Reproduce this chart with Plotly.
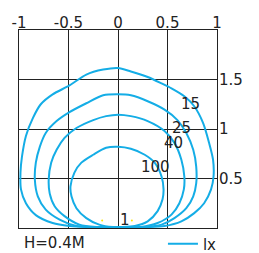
import plotly.graph_objects as go

# Isolux contours (x, y in metres), H = 0.4 m
lx15_x = [-0.32, -0.49, -0.66, -0.83, -0.93, -0.98, -0.985, -0.97, -0.93, -0.86, -0.78, -0.66, -0.49, -0.32, -0.15, 0.0,
          0.13, 0.30, 0.44, 0.54, 0.67, 0.77, 0.86, 0.92, 0.96, 0.965, 0.94, 0.87, 0.77, 0.64, 0.47, 0.30]
lx15_y = [0.01, 0.02, 0.05, 0.13, 0.25, 0.39, 0.56, 0.72, 0.93, 1.11, 1.25, 1.35, 1.44, 1.55, 1.60, 1.616,
          1.58, 1.525, 1.46, 1.41, 1.33, 1.23, 1.06, 0.86, 0.69, 0.52, 0.39, 0.25, 0.15, 0.067, 0.02, 0.01]

lx25_x = [-0.25, -0.42, -0.59, -0.73, -0.81, -0.84, -0.83, -0.79, -0.73, -0.62, -0.49, -0.32, -0.15, 0.0,
          0.13, 0.30, 0.47, 0.60, 0.69, 0.76, 0.79, 0.79, 0.76, 0.69, 0.57, 0.44, 0.27]
lx25_y = [0.01, 0.02, 0.084, 0.185, 0.32, 0.49, 0.66, 0.82, 0.96, 1.08, 1.17, 1.26, 1.34, 1.35,
          1.34, 1.28, 1.195, 1.09, 0.96, 0.79, 0.62, 0.45, 0.32, 0.20, 0.10, 0.034, 0.01]

lx40_x = [-0.22, -0.39, -0.54, -0.64, -0.69, -0.70, -0.675, -0.62, -0.54, -0.42, -0.25, -0.12, 0.0,
          0.13, 0.30, 0.47, 0.57, 0.64, 0.67, 0.665, 0.62, 0.54, 0.40, 0.23]
lx40_y = [0.01, 0.034, 0.12, 0.22, 0.35, 0.49, 0.66, 0.79, 0.91, 1.01, 1.09, 1.13, 1.145,
          1.13, 1.08, 0.98, 0.86, 0.69, 0.52, 0.39, 0.25, 0.135, 0.05, 0.01]

lx100_x = [-0.05, -0.19, -0.32, -0.42, -0.47, -0.48, -0.44, -0.37, -0.25, -0.12, 0.0,
           0.13, 0.27, 0.37, 0.44, 0.46, 0.45, 0.40, 0.30, 0.17, 0.03]
lx100_y = [0.01, 0.034, 0.10, 0.20, 0.32, 0.42, 0.56, 0.66, 0.74, 0.81, 0.82,
           0.80, 0.74, 0.66, 0.52, 0.39, 0.29, 0.17, 0.067, 0.02, 0.01]

label_text = ["15", "25", "40", "100", "1"]
label_x = [0.732, 0.638, 0.557, 0.375, 0.066]
label_y = [1.25, 1.01, 0.86, 0.616, 0.084]

dot_x = [-0.16, 0.14]
dot_y = [0.077, 0.077]

x_ticks = [-1, -0.5, 0, 0.5, 1]
x_ticktext = ["-1", "-0.5", "0", "0.5", "1"]
y_ticks = [0.5, 1, 1.5]
y_ticktext = ["0.5", "1", "1.5"]

BLUE = "#14ADE6"
TXT = "#222222"
FONT = "DejaVu Sans"

fig = go.Figure()
curves = [(lx15_x, lx15_y), (lx25_x, lx25_y), (lx40_x, lx40_y), (lx100_x, lx100_y)]
for i, (cx, cy) in enumerate(curves):
    fig.add_trace(go.Scatter(
        x=cx + [cx[0]], y=cy + [cy[0]], mode="lines",
        line=dict(color=BLUE, width=2, shape="spline", smoothing=0.8),
        name="lx", showlegend=(i == 0), hoverinfo="skip"))

fig.add_trace(go.Scatter(x=dot_x, y=dot_y, mode="markers",
                         marker=dict(color="#FFE800", size=2), showlegend=False, hoverinfo="skip"))

for t, lx_, ly_ in zip(label_text, label_x, label_y):
    fig.add_annotation(x=lx_, y=ly_, text=t, showarrow=False, xref="x", yref="y",
                       font=dict(family=FONT, size=15, color=TXT), xanchor="center", yanchor="middle")

fig.add_annotation(x=0.014, y=-0.076, xref="paper", yref="paper", text="H=0.4M", showarrow=False,
                   xanchor="left", yanchor="middle", font=dict(family=FONT, size=15, color=TXT))

fig.update_layout(
    width=251, height=245,
    margin=dict(l=11, r=42, t=22, b=25, pad=0, autoexpand=False),
    paper_bgcolor="white", plot_bgcolor="white",
    font=dict(family=FONT, size=15, color=TXT),
    showlegend=True,
    legend=dict(x=0.727, y=-0.081, xanchor="left", yanchor="middle", bgcolor="rgba(0,0,0,0)",
                font=dict(family=FONT, size=15, color=TXT), borderwidth=0,
                itemwidth=30, tracegroupgap=0),
    xaxis=dict(range=[-1, 1], side="top", tickvals=x_ticks, ticktext=x_ticktext,
               showgrid=True, gridcolor="#222", gridwidth=1, zeroline=False,
               showline=True, mirror=True, linecolor="#222", linewidth=1, ticks="",
               ticklabelstandoff=-5, fixedrange=True, automargin=False),
    yaxis=dict(range=[0, 2], side="right", tickvals=y_ticks, ticktext=y_ticktext,
               showgrid=True, gridcolor="#222", gridwidth=1, zeroline=False,
               showline=True, mirror=True, linecolor="#222", linewidth=1, ticks="",
               ticklabelstandoff=-2, fixedrange=True, automargin=False),
)

fig.write_html("out.html")
